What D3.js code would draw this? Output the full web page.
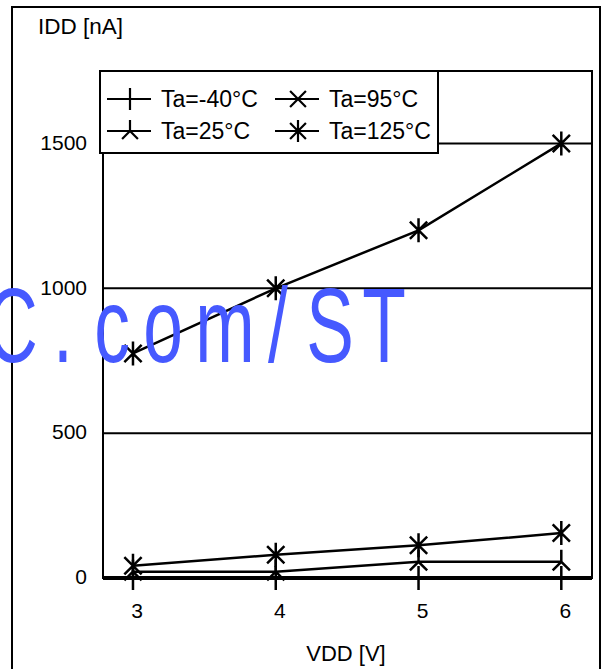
<!DOCTYPE html>
<html><head><meta charset="utf-8">
<script src="https://cdn.jsdelivr.net/npm/d3@7"></script>
<style>html,body{margin:0;padding:0;background:#fff;}svg{display:block;}</style>
</head><body>
<script>
const vdd = [3, 4, 5, 6];
const seriesNames = ["Ta=-40°C", "Ta=25°C", "Ta=95°C", "Ta=125°C"];
const idd_m40 = [0, 0, 0, 0];
const idd_25 = [22, 22, 56, 56];
const idd_95 = [42, 80, 113, 155];
const idd_125 = [775, 1000, 1200, 1500];
const yTicks = [0, 500, 1000, 1500];
const xTicks = [3, 4, 5, 6];
const legendShapes = ["plus", "ypsi", "cross", "star"];
const dataShapes = ["plus", "ypsi", "star", "star"];
const seriesValues = [idd_m40, idd_25, idd_95, idd_125];

const W = 606, H = 669;
const svg = d3.select("body").append("svg").attr("width", W).attr("height", H);
const font = "'Liberation Sans', Arial, sans-serif";

const plot = {left: 103, right: 592, top: 71, bottom: 578};
const x = d3.scaleLinear().domain([2.79, 6.215]).range([plot.left, plot.right]);
const y = d3.scaleLinear().domain([0, 1750]).range([plot.bottom, plot.top]);

// outer frame
svg.append("path").attr("d", `M12,${H} L12,7 L600,7 L600,${H}`)
  .attr("fill", "none").attr("stroke", "#000").attr("stroke-width", 2);

// plot frame
svg.append("rect").attr("x", plot.left).attr("y", plot.top)
  .attr("width", plot.right - plot.left).attr("height", plot.bottom - plot.top)
  .attr("fill", "none").attr("stroke", "#000").attr("stroke-width", 2);

// gridlines
svg.append("g").selectAll("line").data(yTicks.filter(d => d > 0)).join("line")
  .attr("x1", plot.left).attr("x2", plot.right)
  .attr("y1", d => y(d)).attr("y2", d => y(d))
  .attr("stroke", "#000").attr("stroke-width", 2);

// y axis labels
svg.append("g").selectAll("text").data(yTicks).join("text")
  .attr("x", 87).attr("y", d => y(d) - 1).attr("dy", "0.35em")
  .attr("text-anchor", "end").attr("font-family", font).attr("font-size", 21)
  .text(d => d);

// x axis labels
svg.append("g").selectAll("text").data(xTicks).join("text")
  .attr("x", d => x(d) + 4).attr("y", 611).attr("dy", "0.35em")
  .attr("text-anchor", "middle").attr("font-family", font).attr("font-size", 21)
  .text(d => d);

svg.append("text").attr("x", 38).attr("y", 26).attr("dy", "0.35em")
  .attr("font-family", font).attr("font-size", 22.5).text("IDD [nA]");
svg.append("text").attr("x", 346).attr("y", 653).attr("dy", "0.35em")
  .attr("text-anchor", "middle").attr("font-family", font).attr("font-size", 22).text("VDD [V]");

function markerPath(shape, r) {
  const a = r * 0.72;
  switch (shape) {
    case "plus": return `M${-r},0L${r},0M0,${-r}L0,${r}`;
    case "cross": return `M${-a},${-a}L${a},${a}M${-a},${a}L${a},${-a}`;
    case "star": return `M${-a},${-a}L${a},${a}M${-a},${a}L${a},${-a}M0,${-r}L0,${r}`;
    case "ypsi": return `M0,${-r}L0,0M${-a},${a}L0,0L${a},${a}`;
  }
}

const line = d3.line().x(d => x(d[0])).y(d => y(d[1]));
const gData = svg.append("g");
seriesValues.forEach((vals, i) => {
  const pts = vdd.map((v, j) => [v, vals[j]]);
  gData.append("path").attr("d", line(pts)).attr("fill", "none")
    .attr("stroke", "#000").attr("stroke-width", 2.5);
  gData.selectAll(null).data(pts).join("path")
    .attr("transform", d => `translate(${x(d[0])},${y(d[1])})`)
    .attr("d", markerPath(dataShapes[i], 12))
    .attr("fill", "none").attr("stroke", "#000").attr("stroke-width", 2.5);
});

// thick bottom axis line
svg.append("line").attr("x1", plot.left).attr("x2", plot.right)
  .attr("y1", y(0)).attr("y2", y(0)).attr("stroke", "#000").attr("stroke-width", 4);

// legend
const leg = svg.append("g");
leg.append("rect").attr("x", 100).attr("y", 71).attr("width", 338).attr("height", 82)
  .attr("fill", "#fff").attr("stroke", "#000").attr("stroke-width", 2);
const legPos = [[107, 99], [107, 131], [275, 99], [275, 131]];
seriesNames.forEach((name, i) => {
  const [lx, ly] = legPos[i];
  leg.append("line").attr("x1", lx).attr("x2", lx + 44).attr("y1", ly).attr("y2", ly)
    .attr("stroke", "#000").attr("stroke-width", 2);
  leg.append("path").attr("transform", `translate(${lx + 23},${ly})`)
    .attr("d", markerPath(legendShapes[i], 11))
    .attr("fill", "none").attr("stroke", "#000").attr("stroke-width", 2.2);
  leg.append("text").attr("x", lx + 54).attr("y", ly).attr("dy", "0.35em")
    .attr("font-family", font).attr("font-size", 23).text(name);
});

// watermark
const wm = ["C", ".", "c", "o", "m", "/", "S", "T"];
const wmCenters = [12, 63, 112, 163, 225, 278, 330, 384];
const sx = 0.68;
const wg = svg.append("g").attr("transform", `translate(0,362) scale(${sx},1)`);
wg.selectAll("text").data(wm).join("text")
  .attr("x", (d, i) => wmCenters[i] / sx).attr("y", 0)
  .attr("text-anchor", "middle").attr("font-family", font).attr("font-size", 105)
  .attr("fill", "#4659FF").text(d => d);
</script>
</body></html>
